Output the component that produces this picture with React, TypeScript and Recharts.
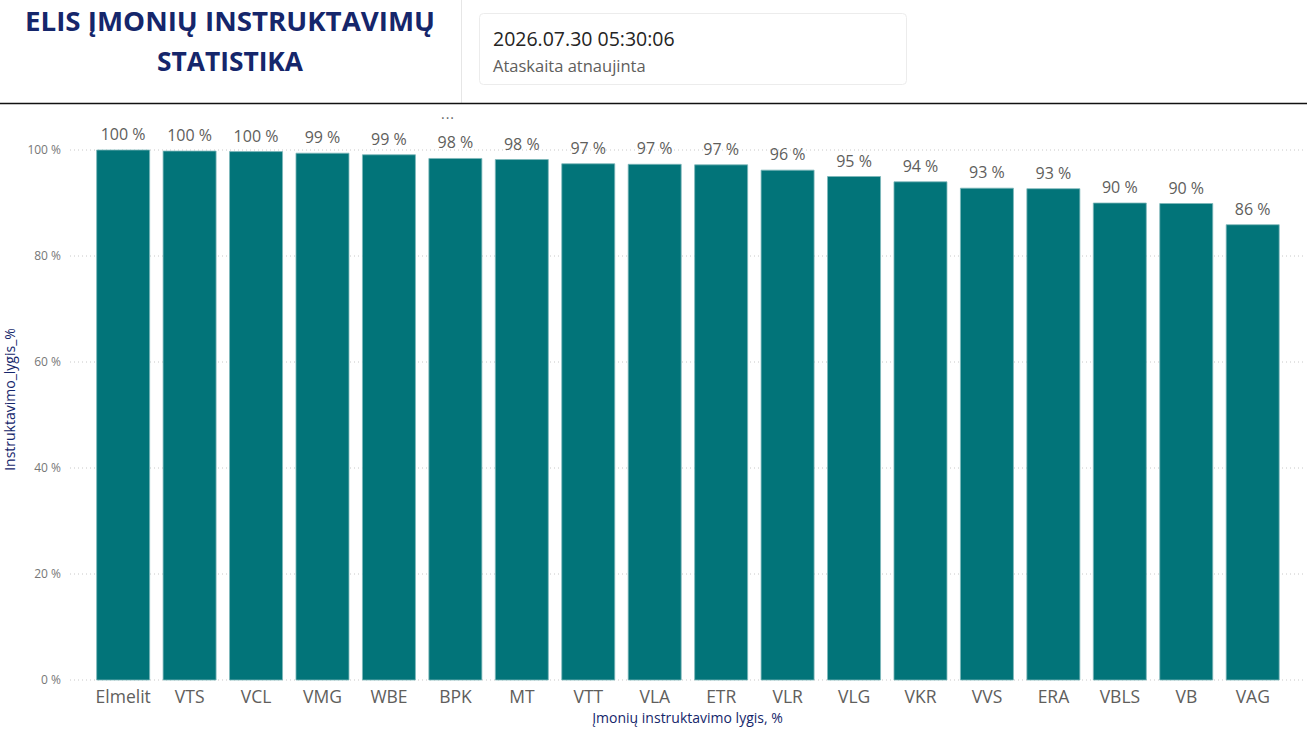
import React from 'react';
import { BarChart, Bar, XAxis, YAxis, CartesianGrid, LabelList, Label } from 'recharts';

const categories = ['Elmelit', 'VTS', 'VCL', 'VMG', 'WBE', 'BPK', 'MT', 'VTT', 'VLA', 'ETR', 'VLR', 'VLG', 'VKR', 'VVS', 'ERA', 'VBLS', 'VB', 'VAG'];
const values = [100, 99.8, 99.7, 99.4, 99.1, 98.4, 98.2, 97.4, 97.3, 97.2, 96.2, 95.0, 94.0, 92.8, 92.7, 90.0, 89.9, 85.9];
const yTicks = [0, 20, 40, 60, 80, 100];

const titleLines = ['ELIS ĮMONIŲ INSTRUKTAVIMŲ', 'STATISTIKA'];
const updatedAt = '2026.07.30 05:30:06';
const updatedLabel = 'Ataskaita atnaujinta';
const yAxisTitle = 'Instruktavimo_lygis_%';
const xAxisTitle = 'Įmonių instruktavimo lygis, %';

const data = categories.map((name, i) => ({ name, value: values[i] }));

const FONT = '"Segoe UI", "Open Sans", sans-serif';
const NAVY = '#15266b';
const TEAL = '#027479';

const renderValueLabel = (props: any) => {
  const { x, y, width, value } = props;
  return (
    <text x={x + width / 2} y={y - 10} textAnchor="middle" fontFamily={FONT} fontSize={16} fill="#605e5c">
      {`${Math.round(value)} %`}
    </text>
  );
};

export default function App() {
  return (
    <div style={{ position: 'absolute', left: 0, top: 0, width: 1307, height: 734, background: '#fff', overflow: 'hidden', fontFamily: FONT }}>
      <svg width={1307} height={110} style={{ position: 'absolute', left: 0, top: 0 }}>
        <text x={230} y={31} textAnchor="middle" fontFamily={FONT} fontWeight={700} fontSize={27} fill={NAVY} textLength={410} lengthAdjust="spacingAndGlyphs">{titleLines[0]}</text>
        <text x={230} y={71} textAnchor="middle" fontFamily={FONT} fontWeight={700} fontSize={27} fill={NAVY} textLength={146} lengthAdjust="spacingAndGlyphs">{titleLines[1]}</text>
        <line x1={461.5} y1={0} x2={461.5} y2={103} stroke="#e6e6e6" strokeWidth={1} />
        <rect x={479.5} y={13.5} width={427} height={71} rx={4} fill="#fff" stroke="#ececec" strokeWidth={1} />
        <text x={493} y={46} fontFamily={FONT} fontWeight={500} fontSize={19.5} fill="#252423">{updatedAt}</text>
        <text x={493} y={72} fontFamily={FONT} fontSize={16.5} fill="#605e5c">{updatedLabel}</text>
        <line x1={0} y1={103.5} x2={1307} y2={103.5} stroke="#111" strokeWidth={1.5} />
      </svg>
      <svg width={40} height={20} style={{ position: 'absolute', left: 428, top: 104 }}>
        <text x={20} y={15} textAnchor="middle" fontFamily={FONT} fontSize={14} fill="#666" letterSpacing={1}>...</text>
      </svg>
      <div style={{ position: 'absolute', left: 0, top: 103 }}>
        <BarChart width={1307} height={631} data={data} margin={{ top: 47, right: 2, bottom: 24, left: 0 }} barCategoryGap="10%">
          <CartesianGrid vertical={false} stroke="#c8c8c8" strokeDasharray="1 3" />
          <XAxis
            dataKey="name"
            axisLine={false}
            tickLine={false}
            tickSize={6}
            tickMargin={5}
            height={30}
            interval={0}
            padding={{ left: 20, right: 19 }}
            tick={{ fill: '#605e5c', fontSize: 17.5, fontFamily: FONT }}
          >
            <Label
              content={({ viewBox }: any) => (
                <text x={viewBox.x + viewBox.width / 2} y={viewBox.y + viewBox.height + 13} textAnchor="middle" fontFamily={FONT} fontSize={14} fill={NAVY}>
                  {xAxisTitle}
                </text>
              )}
            />
          </XAxis>
          <YAxis
            width={70}
            domain={[0, 100]}
            ticks={yTicks}
            axisLine={false}
            tickLine={false}
            tickSize={6}
            tickMargin={3}
            tickFormatter={(v: number) => `${v} %`}
            tick={{ fill: '#777', fontSize: 12, fontFamily: FONT }}
          >
            <Label
              content={() => (
                <text x={15} y={296.5} transform="rotate(-90 15 296.5)" textAnchor="middle" fontFamily={FONT} fontSize={14} fill={NAVY}>
                  {yAxisTitle}
                </text>
              )}
            />
          </YAxis>
          <Bar dataKey="value" fill={TEAL} stroke="#7db8ba" strokeWidth={0.8} isAnimationActive={false}>
            <LabelList dataKey="value" content={renderValueLabel} />
          </Bar>
        </BarChart>
      </div>
    </div>
  );
}
